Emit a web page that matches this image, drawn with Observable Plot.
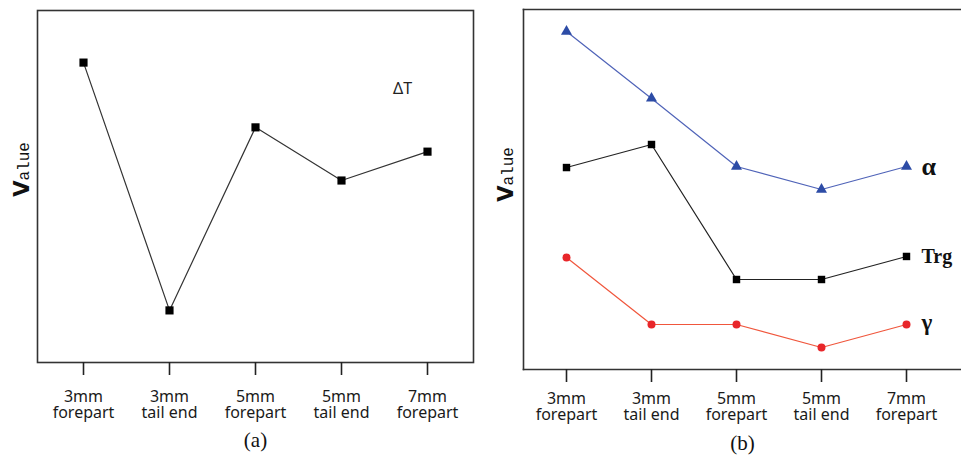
<!DOCTYPE html>
<html><head><meta charset="utf-8">
<script src="https://cdn.jsdelivr.net/npm/d3@7"></script>
<script src="https://cdn.jsdelivr.net/npm/@observablehq/plot@0.6"></script>
<style>
body{margin:0;background:#fff;overflow:hidden}
#wrap{display:flex;width:961px;height:458px}
#wrap svg{display:block;flex:none}
</style></head><body><div id="wrap"></div>
<script>
// ---- data ----
const categories = ["3mm forepart", "3mm tail end", "5mm forepart", "5mm tail end", "7mm forepart"];
const tickLabels = ["3mm\nforepart", "3mm\ntail end", "5mm\nforepart", "5mm\ntail end", "7mm\nforepart"];
const deltaT = [85.2, 14.8, 66.8, 51.7, 59.9];
const alpha = [93.9, 75.3, 56.4, 50.0, 56.4];
const trg = [56.1, 62.5, 25.0, 25.0, 31.4];
const gamma = [31.1, 12.5, 12.5, 6.1, 12.5];
const seriesNames = ["α", "Trg", "γ"];
const yLabelHead = "V";
const yLabelTail = "alue";
const panelLabels = ["(a)", "(b)"];
const deltaLabel = "ΔT";

// ---- styles ----
const styleB = {
  "α": {line: "#4f63b8", fill: "#2d4ca6", symbol: "triangle", r: 4.1, font: 26, dy: 0},
  "Trg": {line: "#222", fill: "#000", symbol: "square", r: 4.2, font: 20, dy: 0},
  "γ": {line: "#f0563c", fill: "#e8262a", symbol: "circle", r: 4.0, font: 23, dy: -2}
};

const dataA = categories.map((c, i) => ({cat: c, value: deltaT[i]}));
const seriesVals = [alpha, trg, gamma];
const dataB = seriesNames.map((s, k) => categories.map((c, i) => ({series: s, cat: c, value: seriesVals[k][i]})));

const fmt = d => tickLabels[categories.indexOf(d)];
const baseStyle = {fontFamily: "'Noto Sans', sans-serif", fontSize: "16px", color: "#222", background: "white", overflow: "visible"};

function valueLabel(dx, dy) {
  return [
    Plot.text([yLabelHead], {frameAnchor: "left", dx, dy, rotate: -90, textAnchor: "end", lineAnchor: "bottom",
      fontFamily: "'DejaVu Sans', sans-serif", fontWeight: "bold", fontSize: 21, fill: "#111"}),
    Plot.text([yLabelTail], {frameAnchor: "left", dx, dy, rotate: -90, textAnchor: "start", lineAnchor: "bottom",
      fontFamily: "'Liberation Mono', monospace", fontSize: 16, fill: "#111"})
  ];
}

const axisOpts = {tickSize: 13, tickFormat: fmt, strokeWidth: 1.6, fontSize: 16, lineHeight: 1.0, label: null, fill: "#1a1a1a"};

const plotA = Plot.plot({
  width: 480, height: 458,
  marginLeft: 37, marginRight: 7, marginTop: 10, marginBottom: 96,
  style: baseStyle,
  x: {type: "point", domain: categories, range: [81, 428], padding: 0},
  y: {domain: [0, 100], axis: null},
  marks: [
    Plot.frame({stroke: "#333", strokeWidth: 1.6}),
    Plot.axisX({...axisOpts, tickPadding: 15}),
    Plot.lineY(dataA, {x: "cat", y: "value", stroke: "#333", strokeWidth: 1.2}),
    Plot.dot(dataA, {x: "cat", y: "value", symbol: "square", r: 4.6, fill: "#000"}),
    Plot.text([deltaLabel], {frameAnchor: "top-right", dx: -71, dy: 78, textAnchor: "middle", lineAnchor: "middle", fontSize: 16, fill: "#222"}),
    ...valueLabel(-9, -6),
    Plot.text([panelLabels[0]], {frameAnchor: "bottom", dy: 78, lineAnchor: "middle", fontFamily: "'Liberation Serif', serif", fontSize: 21, fill: "#111"})
  ]
});

const marksB = [
  Plot.frame({anchor: "left", stroke: "#333", strokeWidth: 1.6}),
  Plot.frame({anchor: "top", stroke: "#333", strokeWidth: 1.6}),
  Plot.frame({anchor: "bottom", stroke: "#333", strokeWidth: 1.6}),
  Plot.axisX({...axisOpts, tickPadding: 10})
];
dataB.forEach(ser => {
  const s = styleB[ser[0].series];
  marksB.push(Plot.lineY(ser, {x: "cat", y: "value", stroke: s.line, strokeWidth: 1.2}));
  marksB.push(Plot.dot(ser, {x: "cat", y: "value", symbol: s.symbol, r: s.r, fill: s.fill}));
  marksB.push(Plot.text(ser.slice(-1), {x: "cat", y: "value", text: "series", dx: 15, dy: s.dy, textAnchor: "start",
    fontFamily: "'Liberation Serif', serif", fontWeight: "bold", fontSize: s.font, fill: "#111"}));
});
marksB.push(...valueLabel(-11, -4));
marksB.push(Plot.text([panelLabels[1]], {frameAnchor: "bottom", dy: 74, lineAnchor: "middle", fontFamily: "'Liberation Serif', serif", fontSize: 21, fill: "#111"}));

const plotB = Plot.plot({
  width: 481, height: 458,
  marginLeft: 43, marginRight: 0, marginTop: 9, marginBottom: 89,
  style: baseStyle,
  x: {type: "point", domain: categories, range: [86, 426], padding: 0},
  y: {domain: [0, 100], axis: null},
  marks: marksB
});

document.getElementById("wrap").append(plotA, plotB);
</script></body></html>
